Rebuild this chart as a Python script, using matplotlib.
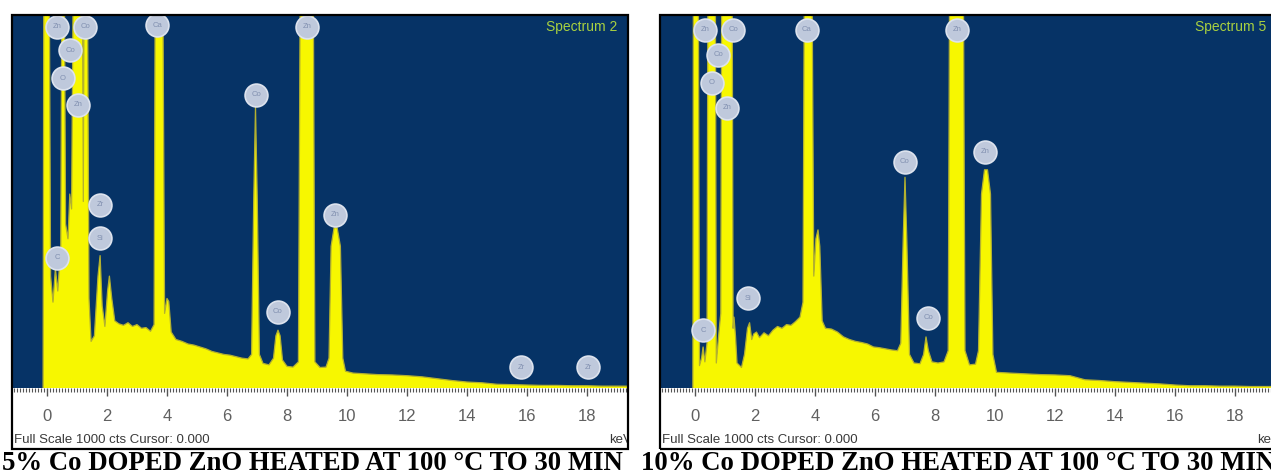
import matplotlib.pyplot as plt
from matplotlib.patches import Rectangle
from matplotlib.ticker import MultipleLocator, FixedLocator, FuncFormatter

W, H = 1271, 476

# spectrum outlines (keV, counts); full scale is 1000 cts
left_kev = [-0.13, -0.10, 0.06, 0.12, 0.20, 0.28, 0.36, 0.46, 0.51, 0.56, 0.62, 0.70,
            0.76, 0.82, 0.90, 1.17, 1.21, 1.25, 1.33, 1.40, 1.47, 1.58, 1.70, 1.77,
            1.84, 1.93, 2.02, 2.08, 2.16, 2.26, 2.40, 2.55, 2.70, 2.85, 3.00, 3.15,
            3.30, 3.45, 3.57, 3.62, 3.84, 3.92, 4.00, 4.06, 4.14, 4.30, 4.50, 4.70,
            4.90, 5.10, 5.30, 5.50, 5.70, 5.90, 6.10, 6.30, 6.50, 6.70, 6.82, 6.89,
            6.95, 7.01, 7.08, 7.20, 7.40, 7.55, 7.63, 7.70, 7.77, 7.85, 8.00, 8.20,
            8.38, 8.46, 8.86, 8.93, 9.10, 9.30, 9.40, 9.47, 9.57, 9.67, 9.78, 9.86,
            9.95, 10.2, 10.6, 11.0, 11.5, 12.0, 12.5, 13.0, 13.5, 14.0, 14.5, 15.0,
            15.5, 16.0, 16.5, 17.0, 17.5, 18.0, 18.5, 19.4]
left_cts = [0, 1400, 1400, 300, 230, 320, 260, 380, 1400, 1400, 440, 400,
            520, 480, 1400, 1400, 500, 1400, 1400, 240, 125, 140, 300, 355,
            220, 165, 260, 300, 240, 180, 172, 168, 175, 165, 170, 160,
            162, 152, 170, 1400, 1400, 200, 240, 232, 150, 130, 125, 118,
            115, 110, 105, 98, 94, 90, 88, 84, 80, 78, 90, 500,
            755, 500, 90, 66, 62, 80, 140, 155, 140, 75, 58, 56,
            70, 1400, 1400, 70, 55, 56, 80, 380, 430, 430, 380, 80,
            45, 40, 38, 36, 35, 33, 30, 25, 20, 16, 14, 10,
            9, 8, 7, 7, 6, 6, 5, 5]

right_kev = [-0.07, -0.05, 0.10, 0.15, 0.22, 0.27, 0.33, 0.40, 0.44, 0.67, 0.71, 0.80,
             0.86, 0.90, 1.23, 1.27, 1.30, 1.35, 1.40, 1.55, 1.65, 1.75, 1.82, 1.89,
             1.96, 2.05, 2.15, 2.30, 2.45, 2.60, 2.75, 2.90, 3.05, 3.20, 3.35, 3.50,
             3.60, 3.66, 3.88, 3.96, 4.03, 4.10, 4.16, 4.24, 4.35, 4.55, 4.75, 4.95,
             5.15, 5.35, 5.55, 5.75, 5.95, 6.15, 6.35, 6.55, 6.75, 6.86, 6.94, 7.00,
             7.06, 7.15, 7.30, 7.50, 7.62, 7.70, 7.78, 7.90, 8.10, 8.30, 8.44, 8.50,
             8.93, 9.00, 9.15, 9.35, 9.45, 9.55, 9.65, 9.75, 9.85, 9.93, 10.05, 10.5,
             11.0, 11.5, 12.0, 12.5, 13.0, 13.5, 14.0, 14.5, 15.0, 15.5, 16.0, 16.5,
             17.0, 17.5, 18.0, 18.5, 19.4]
right_cts = [0, 1400, 1400, 60, 80, 110, 70, 120, 1400, 1400, 67, 150,
             200, 1400, 1400, 160, 190, 140, 67, 55, 90, 160, 175, 130,
             145, 150, 135, 148, 140, 155, 165, 160, 170, 168, 178, 190,
             230, 1400, 1400, 300, 400, 424, 380, 180, 160, 158, 150, 137,
             130, 125, 122, 118, 110, 108, 105, 102, 100, 120, 400, 565,
             400, 90, 67, 65, 90, 137, 100, 70, 67, 70, 100, 1400,
             1400, 100, 62, 64, 100, 520, 585, 585, 520, 90, 42, 40,
             38, 36, 35, 33, 22, 20, 17, 15, 13, 11, 8, 6,
             6, 5, 5, 4, 4]

# element markers (name, keV position, counts position of the disc centre)
left_tag_names = ['Zn', 'Co', 'Co', 'O', 'Zn', 'Ca', 'Zn', 'Co', 'Zn', 'Co', 'Zr', 'Si', 'C', 'Zr', 'Zr']
left_tag_kev = [0.33, 1.27, 0.77, 0.53, 1.03, 3.67, 8.67, 6.97, 9.60, 7.70, 1.77, 1.77, 0.33, 15.80, 18.03]
left_tag_cts = [968, 968, 906, 831, 759, 973, 968, 786, 464, 204, 491, 402, 349, 56, 56]

right_tag_names = ['Zn', 'Co', 'Co', 'O', 'Zn', 'Ca', 'Zn', 'Co', 'Zn', 'Co', 'Si', 'C']
right_tag_kev = [0.33, 1.27, 0.77, 0.57, 1.07, 3.73, 8.73, 7.00, 9.67, 7.77, 1.77, 0.27]
right_tag_cts = [960, 960, 893, 818, 751, 960, 960, 606, 633, 188, 241, 155]

ticks = [0, 2, 4, 6, 8, 10, 12, 14, 16, 18]

NAVY = '#063366'
YELLOW = '#f7f700'
plt.rcParams['font.family'] = ['Liberation Sans', 'DejaVu Sans']

fig = plt.figure(figsize=(W / 100, H / 100), dpi=100)


def px_box(x0, y0, x1, y1):
    return [x0 / W, 1 - y1 / H, (x1 - x0) / W, (y1 - y0) / H]


def panel(dx, kev, cts, names, tkev, tcts, spec_name, caption, cap_x, cap_ha):
    band = fig.add_axes(px_box(13 + dx, 388, 627 + dx, 449))
    band.set_xlim(0, 614)
    band.set_ylim(61, 0)
    band.axis('off')
    band.text(1, 52, 'Full Scale 1000 cts Cursor: 0.000', fontsize=9.5, color='#3a3a3a',
              va='center', ha='left', clip_on=True)
    band.text(596, 52, 'keV', fontsize=9.5, color='#3a3a3a', va='center', ha='left', clip_on=True)

    ax = fig.add_axes(px_box(13 + dx, 15, 627 + dx, 388))
    ax.set_zorder(3)
    ax.set_facecolor(NAVY)
    ax.set_xlim(-1.133, 19.333)
    ax.set_ylim(0, 1000)
    ax.fill_between(kev, cts, 0, color=YELLOW, lw=0)
    ax.plot(kev, cts, color='#b3b030', lw=0.9)
    ax.scatter(tkev, tcts, s=270, color='#bfc9dc', edgecolors='#dde3ee', linewidths=1.2, zorder=4)
    for n, x, y in zip(names, tkev, tcts):
        ax.text(x, y, n, fontsize=5.5, color='#8190b0', ha='center', va='center', zorder=5)
    ax.text(0.985, 0.967, spec_name, transform=ax.transAxes, color='#a8d040', fontsize=10,
            ha='right', va='center')

    ax.yaxis.set_visible(False)
    for s in ax.spines.values():
        s.set_visible(False)
    ax.xaxis.set_major_locator(FixedLocator(ticks))
    ax.xaxis.set_minor_locator(MultipleLocator(0.1))
    ax.xaxis.set_major_formatter(FuncFormatter(lambda v, p: '%d' % v))
    ax.tick_params(axis='x', which='major', direction='out', length=6, width=1.0,
                   color='#555555', pad=9, labelsize=12, labelcolor='#606060')
    ax.tick_params(axis='x', which='minor', direction='out', length=3, width=0.8, color='#555555')

    fig.patches.append(Rectangle(((12 + dx) / W, 1 - 449 / H), 616 / W, 434 / H,
                                 transform=fig.transFigure, fill=False, ec='black', lw=1.6,
                                 zorder=10))
    fig.text(cap_x / W, 1 - 463 / H, caption, family='Liberation Serif', weight='bold',
             fontsize=19.3, ha=cap_ha, va='center')


panel(0, left_kev, left_cts, left_tag_names, left_tag_kev, left_tag_cts, 'Spectrum 2',
      '5% Co DOPED ZnO HEATED AT 100 \u00b0C TO 30 MIN', 2, 'left')
panel(648, right_kev, right_cts, right_tag_names, right_tag_kev, right_tag_cts, 'Spectrum 5',
      '10% Co DOPED ZnO HEATED AT 100 \u00b0C TO 30 MIN', 641, 'left')

fig.savefig('out.png', dpi=100)
